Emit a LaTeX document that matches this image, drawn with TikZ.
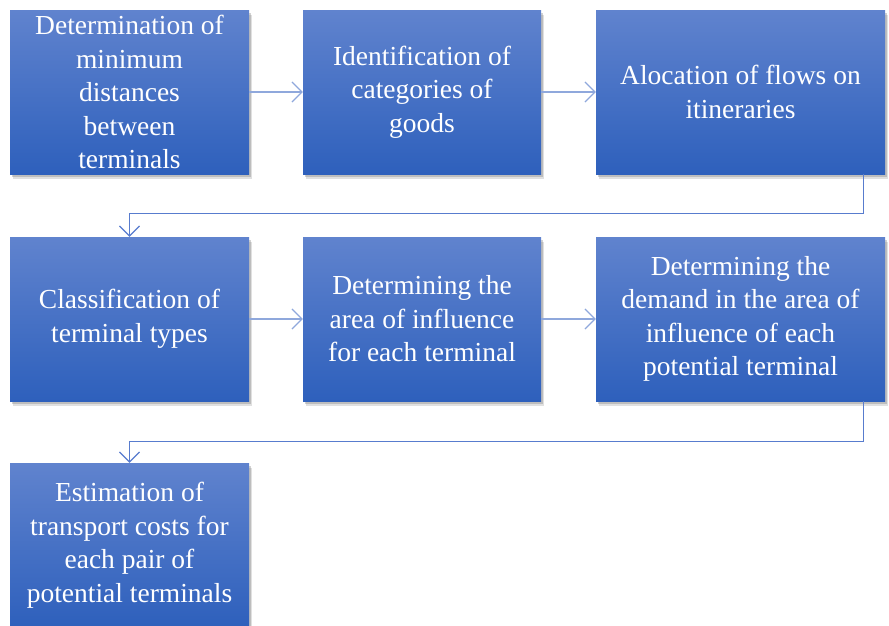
\documentclass[tikz,border=0pt]{standalone}
\usepackage{fontspec}
\setmainfont{Liberation Serif}
\usetikzlibrary{arrows.meta,shadows}
\definecolor{boxtop}{RGB}{96,131,206}
\definecolor{boxbot}{RGB}{46,96,188}
\definecolor{connlt}{RGB}{143,168,220}
\definecolor{conndk}{RGB}{88,124,206}
\begin{document}
\begin{tikzpicture}[x=1pt,y=-1pt,
  box/.style={minimum height=164pt, inner sep=0pt, top color=boxtop, bottom color=boxbot,
    draw=none, text=white, align=center, font=\fontsize{27.5}{33.5}\selectfont,
    drop shadow={shadow xshift=1.5pt, shadow yshift=-2.5pt, opacity=0.25, fill=black!70},
    drop shadow={shadow xshift=3pt, shadow yshift=-5pt, opacity=0.2, fill=black!60}},
  harrow/.style={draw=connlt, line width=1.6pt, -{Straight Barb[length=10pt,width=20pt,line width=1.2pt]}},
  varrow/.style={draw=conndk, line width=1pt, -{Straight Barb[length=10pt,width=20pt,line width=1.2pt]}}]
\useasboundingbox (0,0) rectangle (889,625);
\node[box, minimum width=239pt] (b1) at (129.5,92) {Determination of\\minimum\\distances\\between\\terminals};
\node[box, minimum width=238pt] (b2) at (422,92) {Identification of\\categories of\\goods};
\node[box, minimum width=289pt] (b3) at (740.5,92) {Alocation of flows on\\itineraries};
\node[box, minimum width=239pt] (b4) at (129.5,319) {Classification of\\terminal types};
\node[box, minimum width=238pt] (b5) at (422,319) {Determining the\\area of influence\\for each terminal};
\node[box, minimum width=289pt] (b6) at (740.5,319) {Determining the\\demand in the area of\\influence of each\\potential terminal};
\node[box, minimum width=239pt] (b7) at (129.5,545) {Estimation of\\transport costs for\\each pair of\\potential terminals};
\coordinate (t1) at (863,213);
\coordinate (t2) at (863,441);
\draw[harrow] (b1.east) -- (b2.west);
\draw[harrow] (b2.east) -- (b3.west);
\draw[harrow] (b4.east) -- (b5.west);
\draw[harrow] (b5.east) -- (b6.west);
\draw[varrow] (b3.south -| t1) -- (t1) -- (t1 -| b4.north) -- (b4.north);
\draw[varrow] (b6.south -| t2) -- (t2) -- (t2 -| b7.north) -- (b7.north);
\end{tikzpicture}
\end{document}
